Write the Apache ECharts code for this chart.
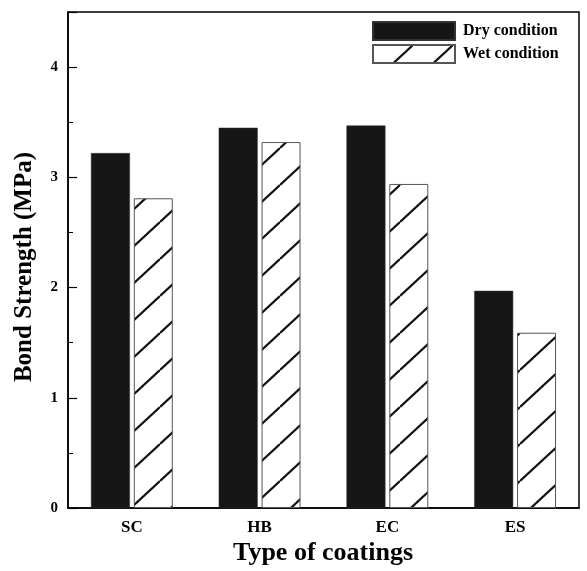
<!DOCTYPE html>
<html>
<head>
<meta charset="utf-8">
<script src="https://cdn.jsdelivr.net/npm/echarts@6/dist/echarts.min.js"></script>
<style>
html,body{margin:0;padding:0;background:#fff;}
#c{width:587px;height:571px;}
</style>
</head>
<body>
<div id="c"></div>
<script>
const categories = ['SC', 'HB', 'EC', 'ES'];
const dryValues = [3.22, 3.45, 3.47, 1.97];
const wetValues = [2.81, 3.32, 2.94, 1.59];
const seriesNames = ['Dry condition', 'Wet condition'];
const yTickLabels = ['0', '1', '2', '3', '4'];

function makeHatch() {
  const W = 40, H = 37;
  const cv = document.createElement('canvas');
  cv.width = W; cv.height = H;
  const ctx = cv.getContext('2d');
  ctx.fillStyle = '#fff';
  ctx.fillRect(0, 0, W, H);
  ctx.strokeStyle = '#111';
  ctx.lineWidth = 2.2;
  const segs = [[0, H, W, 0], [0, 0, W, -H], [0, 2 * H, W, H]];
  segs.forEach(s => { ctx.beginPath(); ctx.moveTo(s[0], s[1]); ctx.lineTo(s[2], s[3]); ctx.stroke(); });
  return cv;
}
const hatch = makeHatch();
const serif = '"Liberation Serif", "DejaVu Serif", serif';

const chart = echarts.init(document.getElementById('c'), null, { renderer: 'canvas' });
chart.setOption({
  animation: false,
  backgroundColor: '#fff',
  grid: { left: 68, top: 12, right: 8, bottom: 63, show: true, borderColor: '#000', borderWidth: 1.5, backgroundColor: 'transparent' },
  legend: {
    left: 367, top: 16, orient: 'vertical', itemWidth: 82, itemHeight: 18, itemGap: 3,
    icon: 'rect',
    textStyle: { fontFamily: serif, fontWeight: 'bold', fontSize: 16, color: '#000', padding: [0, 0, 0, 3] },
    data: seriesNames
  },
  xAxis: {
    type: 'category', data: categories,
    axisLine: { lineStyle: { color: '#000', width: 1.5 } },
    axisTick: { show: false },
    axisLabel: { fontFamily: serif, fontWeight: 'bold', fontSize: 17, color: '#000', margin: 11 }
  },
  yAxis: {
    type: 'value', min: 0, max: 4.5, interval: 1,
    splitLine: { show: false },
    axisLine: { show: true, lineStyle: { color: '#000', width: 1.5 } },
    axisTick: { show: true, inside: true, length: 9, lineStyle: { color: '#000', width: 1.2 } },
    minorTick: { show: true, splitNumber: 2, length: 5, lineStyle: { color: '#000', width: 1 } },
    axisLabel: {
      fontFamily: serif, fontWeight: 'bold', fontSize: 15, color: '#000', margin: 10,
      formatter: v => { const i = Math.round(v); return (Math.abs(v - i) < 1e-6 && yTickLabels[i] !== undefined) ? yTickLabels[i] : ''; }
    }
  },
  graphic: [
    { type: 'text', x: 25, y: 267, rotation: Math.PI / 2, style: { text: 'Bond Strength (MPa)', align: 'center', verticalAlign: 'middle', textAlign: 'center', textVerticalAlign: 'middle', fontFamily: serif, fontWeight: 'bold', fontSize: 25, fill: '#000' } },
    { type: 'text', x: 323, y: 553, style: { text: 'Type of coatings', align: 'center', verticalAlign: 'middle', textAlign: 'center', textVerticalAlign: 'middle', fontFamily: serif, fontWeight: 'bold', fontSize: 26, fill: '#000' } }
  ],
  series: [
    {
      name: seriesNames[0], type: 'bar', data: dryValues, barWidth: '30.5%', barGap: '10%',
      itemStyle: { color: '#161616', borderColor: '#333', borderWidth: 0.5 }
    },
    {
      name: seriesNames[1], type: 'bar', data: wetValues, barWidth: '30.5%',
      itemStyle: { color: { image: hatch, repeat: 'repeat' }, borderColor: '#555', borderWidth: 1 }
    }
  ]
});
</script>
</body>
</html>
